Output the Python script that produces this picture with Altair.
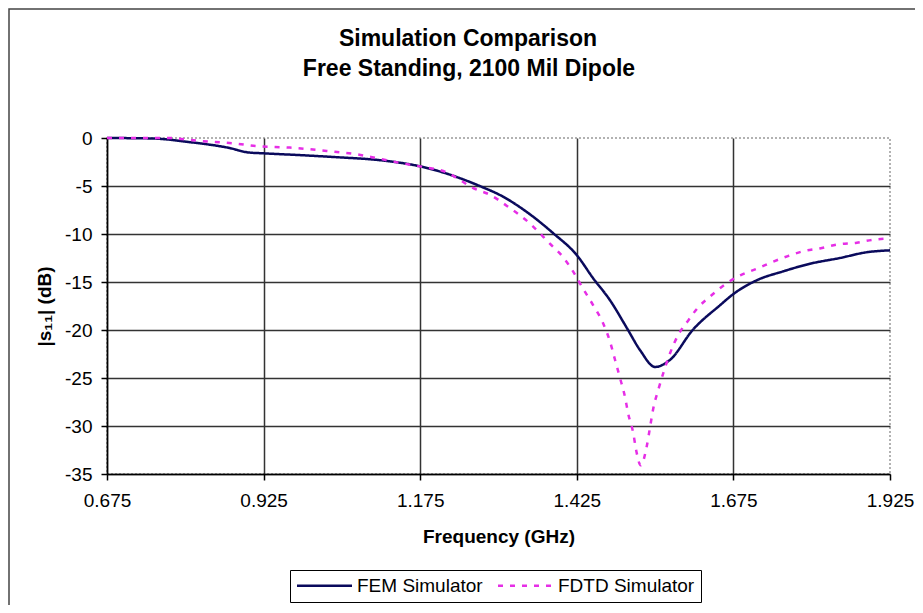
import altair as alt
import pandas as pd

# ---- data ----
fem_freq = [0.675, 0.748, 0.803, 0.871, 0.900, 0.926, 0.988, 1.042, 1.116, 1.178,
            1.207, 1.239, 1.270, 1.307, 1.345, 1.387, 1.425, 1.451, 1.478, 1.505,
            1.526, 1.550, 1.574, 1.610, 1.654, 1.674, 1.713, 1.754, 1.797, 1.845,
            1.888, 1.925]
fem_db = [0.0, -0.05, -0.4, -1.05, -1.5, -1.6, -1.8, -2.0, -2.35, -3.0,
          -3.5, -4.2, -5.0, -6.1, -7.7, -9.9, -12.2, -14.6, -16.9, -19.8,
          -22.1, -23.85, -23.1, -20.0, -17.4, -16.3, -14.8, -13.9, -13.1, -12.5,
          -11.9, -11.7]

fdtd_freq = [0.675, 0.771, 0.823, 0.883, 0.914, 0.967, 1.026, 1.074, 1.106, 1.143,
             1.178, 1.218, 1.239, 1.259, 1.286, 1.314, 1.350, 1.382, 1.403, 1.419,
             1.435, 1.451, 1.467, 1.478, 1.486, 1.494, 1.502, 1.507, 1.515, 1.520,
             1.527, 1.537, 1.542, 1.547, 1.555, 1.564, 1.574, 1.587, 1.603, 1.618,
             1.638, 1.665, 1.686, 1.713, 1.738, 1.762, 1.786, 1.813, 1.840, 1.872,
             1.898, 1.925]
fdtd_db = [0.0, 0.0, -0.3, -0.6, -0.85, -1.0, -1.35, -1.7, -2.1, -2.6,
           -3.0, -3.6, -4.4, -5.2, -5.9, -7.1, -8.9, -11.0, -12.4, -13.9,
           -15.7, -17.4, -19.3, -21.2, -23.1, -25.0, -27.0, -28.7, -30.7, -32.6,
           -34.1, -32.0, -30.1, -28.2, -26.25, -24.3, -22.4, -20.5, -19.0, -17.7,
           -16.5, -15.1, -14.3, -13.6, -12.9, -12.3, -11.8, -11.5, -11.1, -10.9,
           -10.6, -10.45]

series_names = ["FEM Simulator", "FDTD Simulator"]
x_ticks = [0.675, 0.925, 1.175, 1.425, 1.675, 1.925]
y_ticks = [0, -5, -10, -15, -20, -25, -30, -35]
title_lines = ["Simulation Comparison", "Free Standing, 2100 Mil Dipole"]

df = pd.concat([
    pd.DataFrame({"freq": fem_freq, "db": fem_db, "series": series_names[0], "order": range(len(fem_freq))}),
    pd.DataFrame({"freq": fdtd_freq, "db": fdtd_db, "series": series_names[1], "order": range(len(fdtd_freq))}),
])

FONT = "Liberation Sans"

lines = alt.Chart(df).mark_line(strokeWidth=2.5, interpolate="monotone").encode(
    x=alt.X("freq:Q",
            scale=alt.Scale(domain=[0.675, 1.925], nice=False, zero=False),
            axis=alt.Axis(values=x_ticks, format=".3f", title="Frequency (GHz)",
                          labelFlush=False, labelPadding=11, titlePadding=17,
                          gridColor={"condition": {"test": "datum.value > 1.9", "value": "transparent"},
                                     "value": "#333333"})),
    y=alt.Y("db:Q",
            scale=alt.Scale(domain=[-35, 0], nice=False, zero=False),
            axis=alt.Axis(values=y_ticks, title="|s\u2081\u2081| (dB)",
                          labelExpr="'' + datum.value", labelFlush=False,
                          labelPadding=9, titlePadding=10,
                          gridColor={"condition": {"test": "datum.value > -0.5", "value": "transparent"},
                                     "value": "#333333"})),
    color=alt.Color("series:N",
                    scale=alt.Scale(domain=series_names, range=["#0a0a5c", "#e62ee6"]),
                    legend=alt.Legend(title=None)),
    strokeDash=alt.StrokeDash("series:N",
                              scale=alt.Scale(domain=series_names, range=[[1, 0], [5, 7]]),
                              legend=alt.Legend(title=None)),
    order="order:Q",
)

frame_df = pd.DataFrame({"k": [0]})
frame = alt.Chart(frame_df).mark_rect(fill=None, stroke="#444444", strokeWidth=1.5).encode(
    x=alt.value(-98), x2=alt.value(900), y=alt.value(-129), y2=alt.value(600)
)

title1 = alt.Chart(frame_df).mark_text(
    font=FONT, fontSize=23, fontWeight="bold", color="#000000", baseline="alphabetic", align="center"
).encode(x=alt.value(361), y=alt.value(-92), text=alt.value(title_lines[0]))
title2 = alt.Chart(frame_df).mark_text(
    font=FONT, fontSize=23, fontWeight="bold", color="#000000", baseline="alphabetic", align="center"
).encode(x=alt.value(362), y=alt.value(-62), text=alt.value(title_lines[1]))

chart = alt.layer(frame, title1, title2, lines).properties(
    width=783,
    height=336,
    padding={"left": 99, "top": 130, "right": 25, "bottom": 131},
    autosize=alt.AutoSizeParams(type="none"),
).configure_view(
    stroke="#999999", strokeDash=[2, 2], strokeWidth=1.5
).configure_axis(
    labelFont=FONT, labelFontSize=19, labelColor="#000000",
    titleFont=FONT, titleFontSize=19, titleFontWeight="bold", titleColor="#000000",
    domainColor="#000000", domainWidth=1.5,
    tickColor="#000000", tickSize=6, tickWidth=1.5,
    gridWidth=1.5,
).configure_legend(
    orient="none", legendX=183, legendY=432, direction="horizontal",
    strokeColor="#000000", padding=6, fillColor="#ffffff",
    labelFont=FONT, labelFontSize=19, labelColor="#000000", labelOffset=23,
    symbolType="M-3.4375,0H3.4375", symbolSize=256, symbolStrokeWidth=2.5,
    symbolOffset=19, columnPadding=10,
)

chart.save("out.html", embed_options={"renderer": "svg", "actions": False})
